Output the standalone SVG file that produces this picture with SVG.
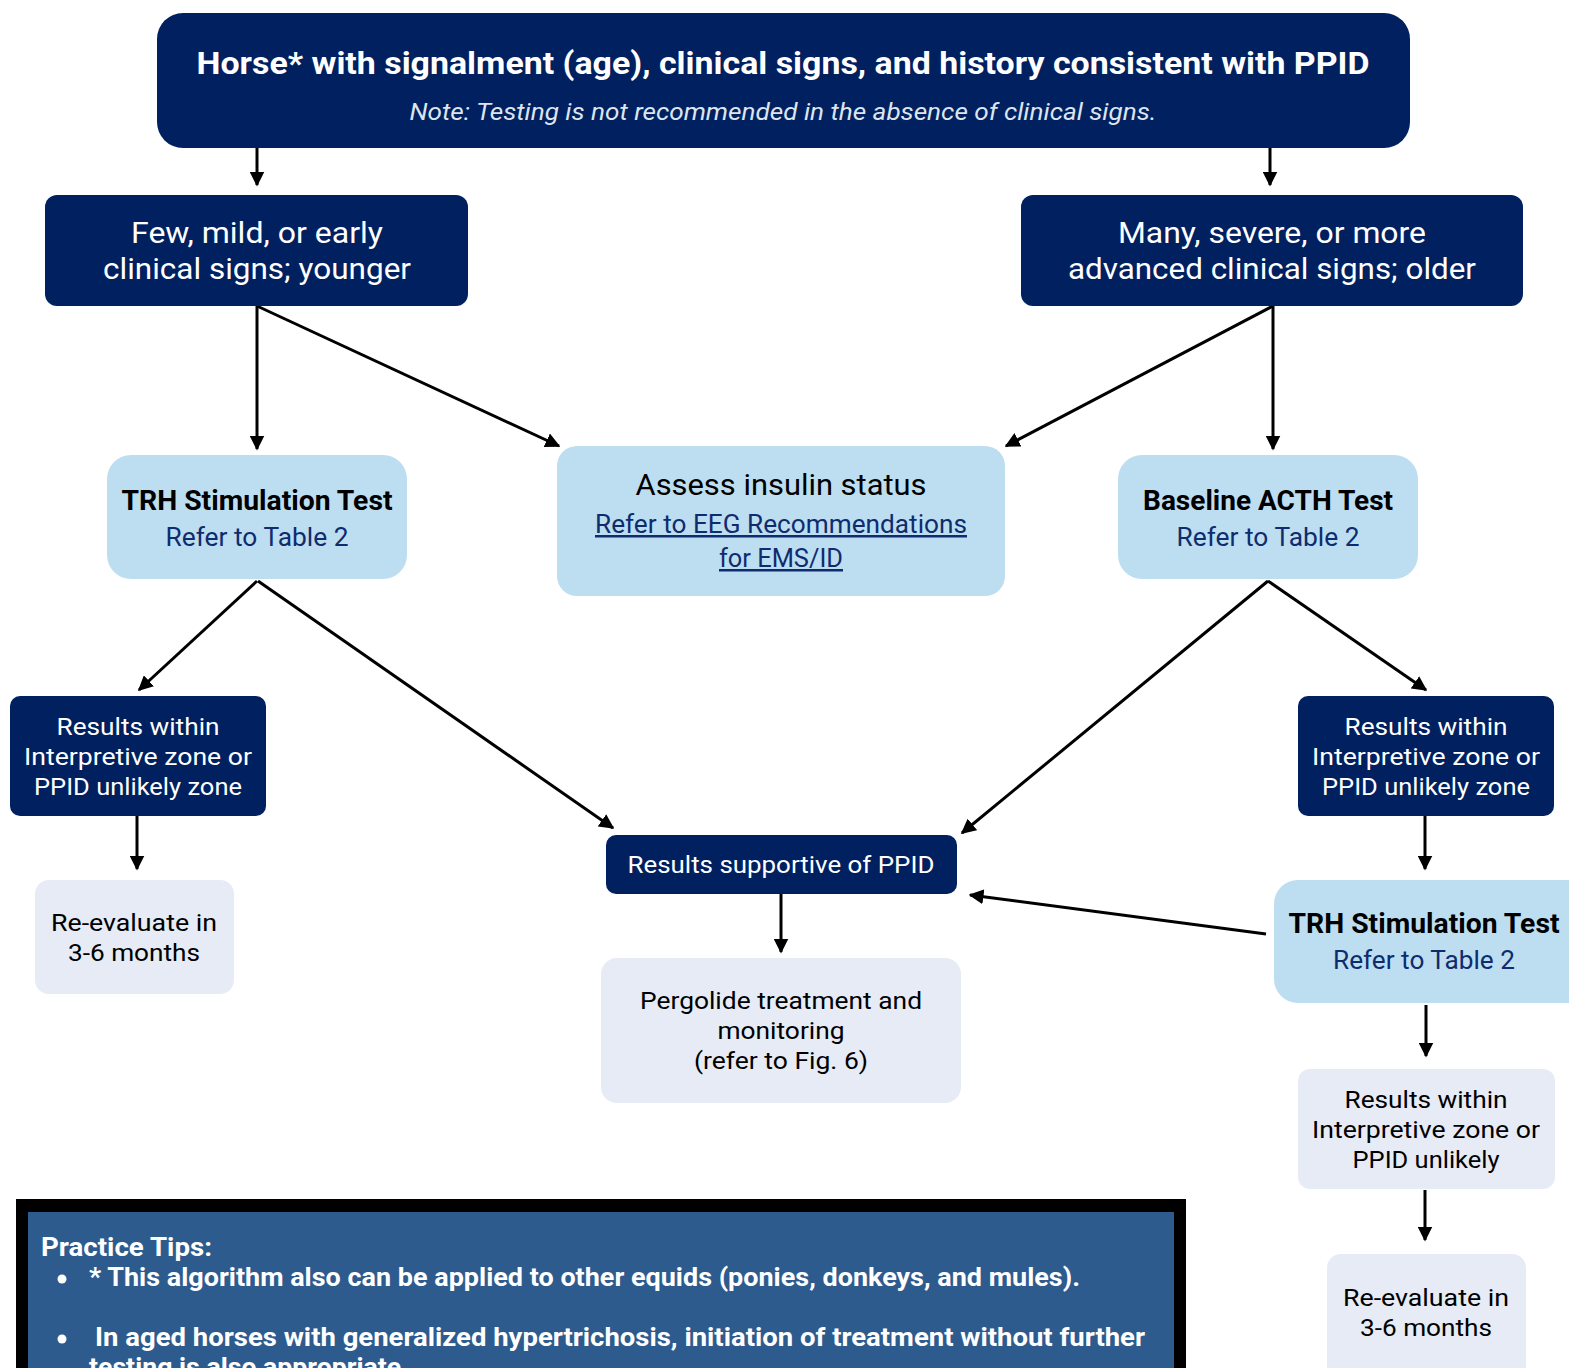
<svg xmlns="http://www.w3.org/2000/svg" width="1569" height="1368" viewBox="0 0 1569 1368">
<style>
text{font-family:Roboto,"Liberation Sans",sans-serif;text-anchor:middle}
.navy{fill:#002060}
.lb{fill:#bddef1}
.gb{fill:#e6ebf6}
.w{fill:#ffffff}
.k{fill:#000000}
.lnk{fill:#0e2c6e}
.b{font-weight:bold}
.t29{font-size:29px}
.t24{font-size:24px}
.t26{font-size:26px}
.t30{font-size:30px}
.tip{fill:#ffffff;font-weight:bold;font-size:25px;text-anchor:start}
.c{stroke:#000;stroke-width:3;fill:none;marker-end:url(#ah)}
</style>
<defs>
<marker id="ah" viewBox="0 0 10 10" refX="9" refY="5" markerWidth="5" markerHeight="5" orient="auto" markerUnits="strokeWidth">
<path d="M0,0 L10,5 L0,10 z" fill="#000"/>
</marker>
</defs>
<rect width="1569" height="1368" fill="#fff"/>

<g id="connectors">
<line class="c" x1="257" y1="148" x2="257" y2="185"/>
<line class="c" x1="1270" y1="148" x2="1270" y2="185"/>
<line class="c" x1="257" y1="306" x2="257" y2="449"/>
<line class="c" x1="257" y1="306" x2="559" y2="446"/>
<line class="c" x1="1273" y1="306" x2="1006" y2="446"/>
<line class="c" x1="1273" y1="306" x2="1273" y2="449"/>
<line class="c" x1="257" y1="581" x2="139" y2="690"/>
<line class="c" x1="258" y1="581" x2="613" y2="828"/>
<line class="c" x1="1268" y1="581" x2="962" y2="833"/>
<line class="c" x1="1268" y1="581" x2="1426" y2="690"/>
<line class="c" x1="137" y1="816" x2="137" y2="869"/>
<line class="c" x1="781" y1="894" x2="781" y2="952"/>
<line class="c" x1="1425" y1="816" x2="1425" y2="869"/>
<line class="c" x1="1266" y1="934" x2="970" y2="895"/>
<line class="c" x1="1426" y1="1005" x2="1426" y2="1056"/>
<line class="c" x1="1425" y1="1190" x2="1425" y2="1240"/>
</g>

<g id="n-top">
<rect class="navy" x="157" y="13" width="1253" height="135" rx="26"/>
<text class="w b" x="783" y="74" font-size="32" textLength="1173" lengthAdjust="spacingAndGlyphs">Horse* with signalment (age), clinical signs, and history consistent with PPID</text>
<text x="783" y="120" font-size="24" font-style="italic" fill="#dde5ef" textLength="747" lengthAdjust="spacingAndGlyphs">Note: Testing is not recommended in the absence of clinical signs.</text>
</g>

<g id="n-few">
<rect class="navy" x="45" y="195" width="423" height="111" rx="12"/>
<text class="w t29" x="257" y="243" textLength="252" lengthAdjust="spacingAndGlyphs">Few, mild, or early</text>
<text class="w t29" x="257" y="279" textLength="308" lengthAdjust="spacingAndGlyphs">clinical signs; younger</text>
</g>

<g id="n-many">
<rect class="navy" x="1021" y="195" width="502" height="111" rx="12"/>
<text class="w t29" x="1272" y="243" textLength="308" lengthAdjust="spacingAndGlyphs">Many, severe, or more</text>
<text class="w t29" x="1272" y="279" textLength="408" lengthAdjust="spacingAndGlyphs">advanced clinical signs; older</text>
</g>

<g id="n-trh-left">
<rect class="lb" x="107" y="455" width="300" height="124" rx="24"/>
<text class="k b" x="257" y="510" font-size="27" textLength="271" lengthAdjust="spacingAndGlyphs">TRH Stimulation Test</text>
<text class="lnk" x="257" y="546" font-size="25" textLength="183" lengthAdjust="spacingAndGlyphs">Refer to Table 2</text>
</g>

<g id="n-insulin">
<rect class="lb" x="557" y="446" width="448" height="150" rx="20"/>
<text class="k t30" x="781" y="495" textLength="291" lengthAdjust="spacingAndGlyphs">Assess insulin status</text>
<text class="lnk" x="781" y="533" font-size="25" text-decoration="underline" textLength="372" lengthAdjust="spacingAndGlyphs">Refer to EEG Recommendations</text>
<text class="lnk" x="781" y="567" font-size="25" text-decoration="underline" textLength="124" lengthAdjust="spacingAndGlyphs">for EMS/ID</text>
</g>

<g id="n-acth">
<rect class="lb" x="1118" y="455" width="300" height="124" rx="24"/>
<text class="k b" x="1268" y="510" font-size="27" textLength="250" lengthAdjust="spacingAndGlyphs">Baseline ACTH Test</text>
<text class="lnk" x="1268" y="546" font-size="25" textLength="183" lengthAdjust="spacingAndGlyphs">Refer to Table 2</text>
</g>

<g id="n-results-left">
<rect class="navy" x="10" y="696" width="256" height="120" rx="10"/>
<text class="w t24" x="138" y="735" textLength="163" lengthAdjust="spacingAndGlyphs">Results within</text>
<text class="w t24" x="138" y="765" textLength="228" lengthAdjust="spacingAndGlyphs">Interpretive zone or</text>
<text class="w t24" x="138" y="795" textLength="208" lengthAdjust="spacingAndGlyphs">PPID unlikely zone</text>
</g>

<g id="n-reeval-left">
<rect class="gb" x="35" y="880" width="199" height="114" rx="14"/>
<text class="k t24" x="134" y="931" textLength="166" lengthAdjust="spacingAndGlyphs">Re-evaluate in</text>
<text class="k t24" x="134" y="961" textLength="132" lengthAdjust="spacingAndGlyphs">3-6 months</text>
</g>

<g id="n-supportive">
<rect class="navy" x="606" y="835" width="351" height="59" rx="10"/>
<text class="w t24" x="781" y="873" textLength="307" lengthAdjust="spacingAndGlyphs">Results supportive of PPID</text>
</g>

<g id="n-pergolide">
<rect class="gb" x="601" y="958" width="360" height="145" rx="16"/>
<text class="k t24" x="781" y="1009" textLength="282" lengthAdjust="spacingAndGlyphs">Pergolide treatment and</text>
<text class="k t24" x="781" y="1039" textLength="127" lengthAdjust="spacingAndGlyphs">monitoring</text>
<text class="k t24" x="781" y="1069" textLength="174" lengthAdjust="spacingAndGlyphs">(refer to Fig. 6)</text>
</g>

<g id="n-results-right">
<rect class="navy" x="1298" y="696" width="256" height="120" rx="10"/>
<text class="w t24" x="1426" y="735" textLength="163" lengthAdjust="spacingAndGlyphs">Results within</text>
<text class="w t24" x="1426" y="765" textLength="228" lengthAdjust="spacingAndGlyphs">Interpretive zone or</text>
<text class="w t24" x="1426" y="795" textLength="208" lengthAdjust="spacingAndGlyphs">PPID unlikely zone</text>
</g>

<g id="n-trh-right">
<rect class="lb" x="1274" y="880" width="320" height="123" rx="24"/>
<text class="k b" x="1424" y="933" font-size="27" textLength="271" lengthAdjust="spacingAndGlyphs">TRH Stimulation Test</text>
<text class="lnk" x="1424" y="969" font-size="25" textLength="182" lengthAdjust="spacingAndGlyphs">Refer to Table 2</text>
</g>

<g id="n-unlikely">
<rect class="gb" x="1298" y="1069" width="257" height="120" rx="12"/>
<text class="k t24" x="1426" y="1108" textLength="163" lengthAdjust="spacingAndGlyphs">Results within</text>
<text class="k t24" x="1426" y="1138" textLength="228" lengthAdjust="spacingAndGlyphs">Interpretive zone or</text>
<text class="k t24" x="1426" y="1168" textLength="147" lengthAdjust="spacingAndGlyphs">PPID unlikely</text>
</g>

<g id="n-reeval-right">
<rect class="gb" x="1327" y="1254" width="199" height="130" rx="14"/>
<text class="k t24" x="1426" y="1306" textLength="166" lengthAdjust="spacingAndGlyphs">Re-evaluate in</text>
<text class="k t24" x="1426" y="1336" textLength="132" lengthAdjust="spacingAndGlyphs">3-6 months</text>
</g>

<g id="tips">
<rect x="16" y="1199" width="1170" height="200" fill="#000"/>
<rect x="28" y="1212" width="1146" height="190" fill="#2e5b8e"/>
<text class="tip" x="41" y="1256" textLength="171" lengthAdjust="spacingAndGlyphs">Practice Tips:</text>
<circle cx="62" cy="1279" r="4.5" fill="#fff"/>
<text class="tip" x="89" y="1286" textLength="991" lengthAdjust="spacingAndGlyphs">* This algorithm also can be applied to other equids (ponies, donkeys, and mules).</text>
<circle cx="62" cy="1339" r="4.5" fill="#fff"/>
<text class="tip" x="95" y="1346" textLength="1050" lengthAdjust="spacingAndGlyphs">In aged horses with generalized hypertrichosis, initiation of treatment without further</text>
<text class="tip" x="89" y="1376" textLength="320" lengthAdjust="spacingAndGlyphs">testing is also appropriate.</text>
</g>
</svg>
